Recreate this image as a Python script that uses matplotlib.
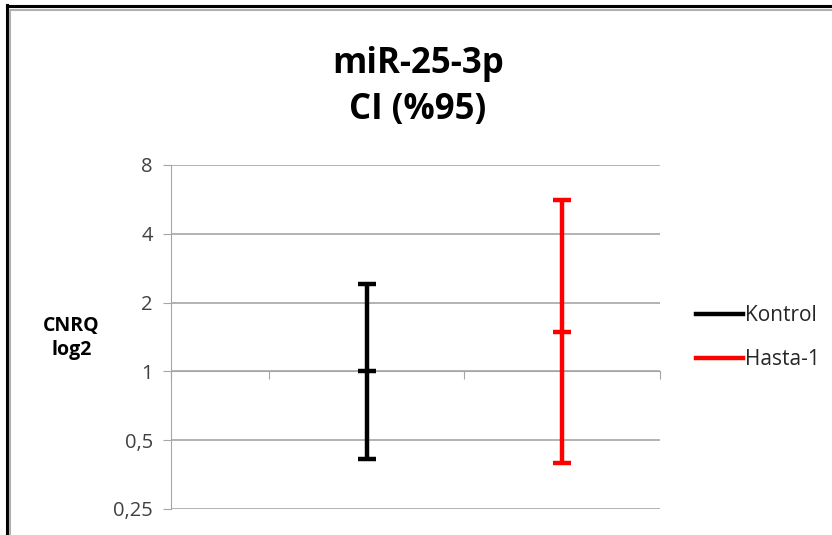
import matplotlib
matplotlib.use("Agg")
import matplotlib.pyplot as plt
from matplotlib.lines import Line2D

# data (CNRQ, log2 scale)
groups = ['Kontrol', 'Hasta-1']
colors = ['black', 'red']
x_pos = [2, 4]
mean_vals = [1.0, 1.49]
lower_vals = [0.412, 0.398]
upper_vals = [2.42, 5.63]
y_ticks = [0.25, 0.5, 1, 2, 4, 8]
y_labels = ['0,25', '0,5', '1', '2', '4', '8']

plt.rcParams['font.family'] = ['Open Sans', 'DejaVu Sans']
plt.rcParams['ytick.labelsize'] = 14.5
plt.rcParams['ytick.labelcolor'] = '#404040'
grid_col = '#a6a6a6'

fig = plt.figure(figsize=(8.32, 5.35), dpi=100)
ax = fig.add_axes([0.2055, 0.0486, 0.5878, 0.643])

for i in range(len(groups)):
    err = [[mean_vals[i] - lower_vals[i]], [upper_vals[i] - mean_vals[i]]]
    ax.errorbar([x_pos[i]], [mean_vals[i]], yerr=err, color=colors[i],
                lw=3.2, capsize=6.5, capthick=3.2, marker='_', ms=13,
                mew=3.2, zorder=5, label=groups[i])

ax.set_yscale('log', base=2)
ax.set_ylim(0.25, 8)
ax.set_yticks(y_ticks, y_labels)
ax.minorticks_off()
ax.set_xlim(0, 5)
ax.set_xticks([0, 1, 2, 3, 4, 5])
ax.set_xticklabels([])
ax.yaxis.grid(True, color=grid_col, lw=1.2)
ax.set_axisbelow(True)

for s in ['top', 'right']:
    ax.spines[s].set_visible(False)
ax.spines['left'].set_color(grid_col)
ax.spines['bottom'].set_color(grid_col)
ax.spines['bottom'].set_position(('data', 1))
ax.tick_params(axis='y', color=grid_col, length=6, direction='out', pad=7,
               labelsize=14.5)
ax.tick_params(axis='x', color=grid_col, length=6, direction='out')

fig.text(0.086, 0.368, 'CNRQ\nlog2', ha='center', va='center',
         fontsize=14, fontweight='bold', linespacing=1.3)
fig.text(0.502, 0.838, 'miR-25-3p\nCI (%95)', ha='center', va='center',
         fontsize=25, fontweight='bold', linespacing=1.38)

handles = [Line2D([], [], color=c, lw=3.2) for c in colors]
fig.legend(handles, groups, loc='center left', bbox_to_anchor=(0.814, 0.369),
           frameon=False, fontsize=15, handlelength=2.25, handletextpad=0.1,
           labelspacing=1.1, labelcolor='#262626')

# outer chart frame (only left and top edges visible in the crop)
fig.add_artist(Line2D([0.009, 0.009], [0, 0.99], transform=fig.transFigure,
                      color='black', lw=2.2))
fig.add_artist(Line2D([0.008, 1.0], [0.9895, 0.9895], transform=fig.transFigure,
                      color='black', lw=2.2))
fig.add_artist(Line2D([0.0125, 0.0125], [0, 0.982], transform=fig.transFigure,
                      color='#b0b0b0', lw=1.5))
fig.add_artist(Line2D([0.0125, 1.0], [0.982, 0.982], transform=fig.transFigure,
                      color='#b0b0b0', lw=1.5))

fig.savefig('out.png', dpi=100)
